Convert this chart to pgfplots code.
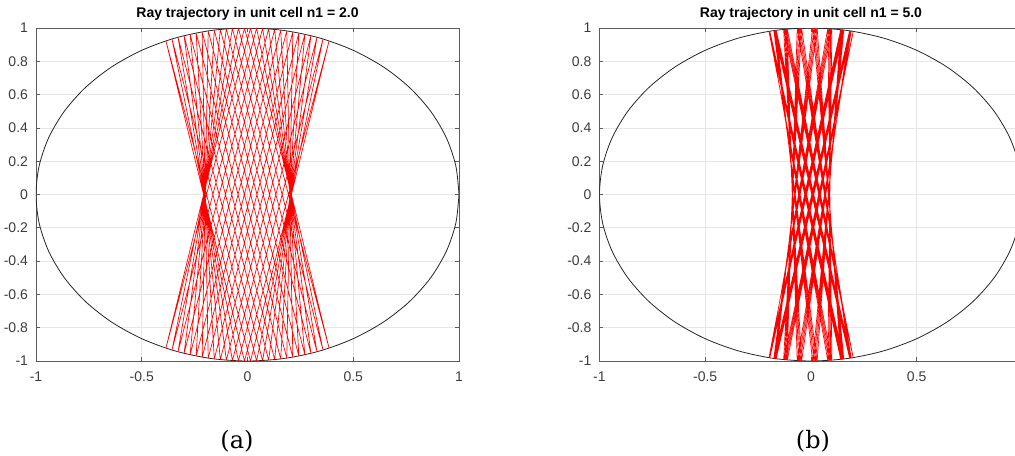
\documentclass[border=0pt]{standalone}
\usepackage{pgfplots}
\pgfplotsset{compat=1.18}
\usepackage{fontspec}
\setmainfont{Liberation Sans}
\newfontfamily\capfont{DejaVu Serif}

\definecolor{axgray}{HTML}{262626}
\definecolor{gridgray}{HTML}{E6E6E6}
\definecolor{rayred}{HTML}{FF0000}

% unit circle, 10 degree steps
\pgfplotstableread{
x y
1 0
0.9848 0.1736
0.9397 0.3420
0.8660 0.5
0.7660 0.6428
0.6428 0.7660
0.5 0.8660
0.3420 0.9397
0.1736 0.9848
0 1
-0.1736 0.9848
-0.3420 0.9397
-0.5 0.8660
-0.6428 0.7660
-0.7660 0.6428
-0.8660 0.5
-0.9397 0.3420
-0.9848 0.1736
-1 0
-0.9848 -0.1736
-0.9397 -0.3420
-0.8660 -0.5
-0.7660 -0.6428
-0.6428 -0.7660
-0.5 -0.8660
-0.3420 -0.9397
-0.1736 -0.9848
0 -1
0.1736 -0.9848
0.3420 -0.9397
0.5 -0.8660
0.6428 -0.7660
0.7660 -0.6428
0.8660 -0.5
0.9397 -0.3420
0.9848 -0.1736
1 0
}\circletab

% chords for n1 = 2.0: entry point on the upper arc, exit point on the lower arc
\pgfplotstableread{
x y
0.0143 0.9999
0.3857 -0.9226
nan nan
0.0143 0.9999
-0.3857 -0.9226
nan nan
-0.0143 0.9999
0.3857 -0.9226
nan nan
-0.0143 0.9999
-0.3857 -0.9226
nan nan
0.0429 0.9991
0.3571 -0.9341
nan nan
0.0429 0.9991
-0.3571 -0.9341
nan nan
-0.0429 0.9991
0.3571 -0.9341
nan nan
-0.0429 0.9991
-0.3571 -0.9341
nan nan
0.0714 0.9974
0.3286 -0.9445
nan nan
0.0714 0.9974
-0.3286 -0.9445
nan nan
-0.0714 0.9974
0.3286 -0.9445
nan nan
-0.0714 0.9974
-0.3286 -0.9445
nan nan
0.1000 0.9950
0.3000 -0.9539
nan nan
0.1000 0.9950
-0.3000 -0.9539
nan nan
-0.1000 0.9950
0.3000 -0.9539
nan nan
-0.1000 0.9950
-0.3000 -0.9539
nan nan
0.1286 0.9917
0.2714 -0.9625
nan nan
0.1286 0.9917
-0.2714 -0.9625
nan nan
-0.1286 0.9917
0.2714 -0.9625
nan nan
-0.1286 0.9917
-0.2714 -0.9625
nan nan
0.1571 0.9876
0.2429 -0.9701
nan nan
0.1571 0.9876
-0.2429 -0.9701
nan nan
-0.1571 0.9876
0.2429 -0.9701
nan nan
-0.1571 0.9876
-0.2429 -0.9701
nan nan
0.1857 0.9826
0.2143 -0.9768
nan nan
0.1857 0.9826
-0.2143 -0.9768
nan nan
-0.1857 0.9826
0.2143 -0.9768
nan nan
-0.1857 0.9826
-0.2143 -0.9768
nan nan
0.2143 0.9768
0.1857 -0.9826
nan nan
0.2143 0.9768
-0.1857 -0.9826
nan nan
-0.2143 0.9768
0.1857 -0.9826
nan nan
-0.2143 0.9768
-0.1857 -0.9826
nan nan
0.2429 0.9701
0.1571 -0.9876
nan nan
0.2429 0.9701
-0.1571 -0.9876
nan nan
-0.2429 0.9701
0.1571 -0.9876
nan nan
-0.2429 0.9701
-0.1571 -0.9876
nan nan
0.2714 0.9625
0.1286 -0.9917
nan nan
0.2714 0.9625
-0.1286 -0.9917
nan nan
-0.2714 0.9625
0.1286 -0.9917
nan nan
-0.2714 0.9625
-0.1286 -0.9917
nan nan
0.3000 0.9539
0.1000 -0.9950
nan nan
0.3000 0.9539
-0.1000 -0.9950
nan nan
-0.3000 0.9539
0.1000 -0.9950
nan nan
-0.3000 0.9539
-0.1000 -0.9950
nan nan
0.3286 0.9445
0.0714 -0.9974
nan nan
0.3286 0.9445
-0.0714 -0.9974
nan nan
-0.3286 0.9445
0.0714 -0.9974
nan nan
-0.3286 0.9445
-0.0714 -0.9974
nan nan
0.3571 0.9341
0.0429 -0.9991
nan nan
0.3571 0.9341
-0.0429 -0.9991
nan nan
-0.3571 0.9341
0.0429 -0.9991
nan nan
-0.3571 0.9341
-0.0429 -0.9991
nan nan
0.3857 0.9226
0.0143 -0.9999
nan nan
0.3857 0.9226
-0.0143 -0.9999
nan nan
-0.3857 0.9226
0.0143 -0.9999
nan nan
-0.3857 0.9226
-0.0143 -0.9999
}\raysA

% chords for n1 = 5.0
\pgfplotstableread{
x y
0.0800 0.9968
0.0988 -0.9951
nan nan
0.0863 0.9963
0.0925 -0.9957
nan nan
0.0925 0.9957
0.0863 -0.9963
nan nan
0.0988 0.9951
0.0800 -0.9968
nan nan
0.1410 0.9900
0.0292 -0.9996
nan nan
0.1457 0.9893
0.0223 -0.9998
nan nan
0.1504 0.9886
0.0153 -0.9999
nan nan
0.1551 0.9879
0.0084 -1.0000
nan nan
0.1828 0.9831
-0.0443 -0.9990
nan nan
0.1853 0.9827
-0.0510 -0.9987
nan nan
0.1879 0.9822
-0.0578 -0.9983
nan nan
0.1904 0.9817
-0.0645 -0.9979
nan nan
0.1997 0.9799
-0.1119 -0.9937
nan nan
0.2000 0.9798
-0.1175 -0.9931
nan nan
0.2000 0.9798
-0.1231 -0.9924
nan nan
0.1997 0.9799
-0.1287 -0.9917
nan nan
0.1902 0.9817
-0.1644 -0.9864
nan nan
0.1877 0.9822
-0.1681 -0.9858
nan nan
0.1851 0.9827
-0.1717 -0.9852
nan nan
0.1826 0.9832
-0.1754 -0.9845
nan nan
0.1547 0.9880
-0.1946 -0.9809
nan nan
0.1500 0.9887
-0.1959 -0.9806
nan nan
0.1452 0.9894
-0.1972 -0.9804
nan nan
0.1405 0.9901
-0.1984 -0.9801
nan nan
0.0982 0.9952
-0.1986 -0.9801
nan nan
0.0919 0.9958
-0.1973 -0.9803
nan nan
0.0857 0.9963
-0.1961 -0.9806
nan nan
0.0794 0.9968
-0.1948 -0.9808
nan nan
0.0285 0.9996
-0.1757 -0.9844
nan nan
0.0216 0.9998
-0.1720 -0.9851
nan nan
0.0146 0.9999
-0.1684 -0.9857
nan nan
0.0077 1.0000
-0.1647 -0.9863
nan nan
-0.0449 0.9990
-0.1292 -0.9916
nan nan
-0.0516 0.9987
-0.1236 -0.9923
nan nan
-0.0584 0.9983
-0.1180 -0.9930
nan nan
-0.0651 0.9979
-0.1125 -0.9937
nan nan
-0.1125 0.9937
-0.0651 -0.9979
nan nan
-0.1180 0.9930
-0.0584 -0.9983
nan nan
-0.1236 0.9923
-0.0516 -0.9987
nan nan
-0.1292 0.9916
-0.0449 -0.9990
nan nan
-0.1647 0.9863
0.0077 -1.0000
nan nan
-0.1684 0.9857
0.0146 -0.9999
nan nan
-0.1720 0.9851
0.0216 -0.9998
nan nan
-0.1757 0.9844
0.0285 -0.9996
nan nan
-0.1948 0.9808
0.0794 -0.9968
nan nan
-0.1961 0.9806
0.0857 -0.9963
nan nan
-0.1973 0.9803
0.0919 -0.9958
nan nan
-0.1986 0.9801
0.0982 -0.9952
nan nan
-0.1984 0.9801
0.1405 -0.9901
nan nan
-0.1972 0.9804
0.1452 -0.9894
nan nan
-0.1959 0.9806
0.1500 -0.9887
nan nan
-0.1946 0.9809
0.1547 -0.9880
nan nan
-0.1754 0.9845
0.1826 -0.9832
nan nan
-0.1717 0.9852
0.1851 -0.9827
nan nan
-0.1681 0.9858
0.1877 -0.9822
nan nan
-0.1644 0.9864
0.1902 -0.9817
nan nan
-0.1287 0.9917
0.1997 -0.9799
nan nan
-0.1231 0.9924
0.2000 -0.9798
nan nan
-0.1175 0.9931
0.2000 -0.9798
nan nan
-0.1119 0.9937
0.1997 -0.9799
nan nan
-0.0645 0.9979
0.1904 -0.9817
nan nan
-0.0578 0.9983
0.1879 -0.9822
nan nan
-0.0510 0.9987
0.1853 -0.9827
nan nan
-0.0443 0.9990
0.1828 -0.9831
nan nan
0.0084 1.0000
0.1551 -0.9879
nan nan
0.0153 0.9999
0.1504 -0.9886
nan nan
0.0223 0.9998
0.1457 -0.9893
nan nan
0.0292 0.9996
0.1410 -0.9900
}\raysB

\pgfplotsset{
  cellaxis/.style={
    scale only axis,
    width=317.25pt, height=249.75pt,
    xmin=-1, xmax=1, ymin=-1, ymax=1,
    xtick={-1,-0.5,0,0.5,1},
    ytick={-1,-0.8,-0.6,-0.4,-0.2,0,0.2,0.4,0.6,0.8,1},
    grid=major,
    major grid style={gridgray, line width=0.6pt},
    axis line style={axgray!75, line width=0.6pt},
    major tick style={axgray!75, line width=0.6pt},
    tick align=inside, major tick length=3pt,
    /pgf/number format/assume math mode=true,
    /pgf/number format/fixed,
    tick label style={font=\fontsize{10.5}{12}\selectfont, text=axgray!90},
    xticklabel style={yshift=-4.5pt},
    yticklabel style={xshift=-2.5pt},
    every axis title/.style={at={(0.5,1)}, anchor=base, yshift=8.25pt,
      font=\bfseries\fontsize{10.5}{12}\selectfont},
    unbounded coords=jump,
  },
  circ/.style={black!85, line width=0.6pt, smooth},
  ray/.style={rayred, line width=0.5pt},
}

\begin{document}
\begin{tikzpicture}
\path[use as bounding box] (0,0) rectangle (761.25pt,341.25pt);

\begin{axis}[cellaxis, at={(27pt,70.5pt)}, anchor=south west,
  title={Ray trajectory in unit cell n1 = 2.0}]
  \addplot[circ] table {\circletab};
  \addplot[ray] table {\raysA};
\end{axis}

\begin{axis}[cellaxis, at={(449.6pt,70.5pt)}, anchor=south west,
  xtick={-1,-0.5,0,0.5},
  title={Ray trajectory in unit cell n1 = 5.0}]
  \addplot[circ] table {\circletab};
  \addplot[ray] table {\raysB};
\end{axis}

\node[font=\capfont\fontsize{18}{21}\selectfont] at (177.75pt,10.5pt) {(a)};
\node[font=\capfont\fontsize{18}{21}\selectfont] at (609.75pt,10.5pt) {(b)};
\end{tikzpicture}
\end{document}
